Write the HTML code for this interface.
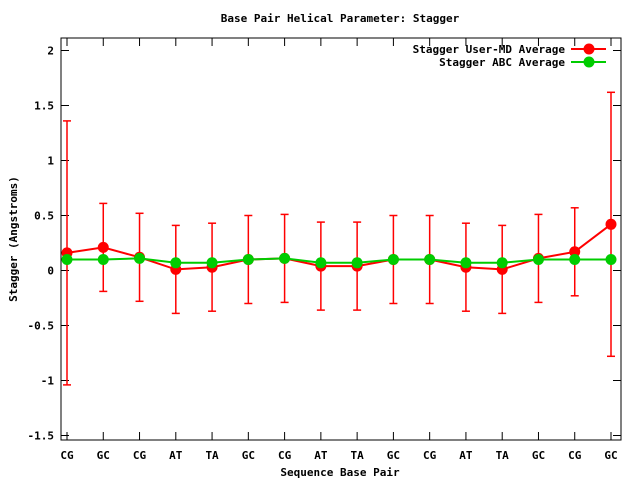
<!DOCTYPE html>
<html><head><meta charset="utf-8"><style>
body{margin:0;background:#fff}
svg text{font-family:"DejaVu Sans Mono","Liberation Mono",monospace;font-size:11px;font-weight:bold;fill:#000}
</style></head><body>
<svg id="c" width="640" height="480" viewBox="0 0 640 480"></svg>
<script>
const categories=["CG","GC","CG","AT","TA","GC","CG","AT","TA","GC","CG","AT","TA","GC","CG","GC"];
const userValues=[0.16,0.21,0.12,0.01,0.03,0.10,0.11,0.04,0.04,0.10,0.10,0.03,0.01,0.11,0.17,0.42];
const userErrors=[1.20,0.40,0.40,0.40,0.40,0.40,0.40,0.40,0.40,0.40,0.40,0.40,0.40,0.40,0.40,1.20];
const abcValues=[0.10,0.10,0.11,0.07,0.07,0.10,0.11,0.07,0.07,0.10,0.10,0.07,0.07,0.10,0.10,0.10];
const yTicks=[-1.5,-1,-0.5,0,0.5,1,1.5,2];
const yTickLabels=["-1.5","-1","-0.5","0","0.5","1","1.5","2"];

const L=61,R=621,T=38,B=440;
const svg=document.getElementById('c');
const NS='http://www.w3.org/2000/svg';
function mk(tag,attrs,parent){const e=document.createElementNS(NS,tag);for(const k in attrs)e.setAttribute(k,attrs[k]);(parent||svg).appendChild(e);return e;}
const x=i=>67+i*(611-67)/(categories.length-1);
const y=v=>270.5-v*110;

let e=mk('rect',{x:L,y:T,width:R-L,height:B-T,fill:'none',stroke:'#000','stroke-width':1});


yTicks.forEach((v,i)=>{
 mk('line',{x1:L,x2:L+8,y1:y(v),y2:y(v),stroke:'#000'});
 mk('line',{x1:R-8,x2:R,y1:y(v),y2:y(v),stroke:'#000'});
 const t=mk('text',{x:L-7,y:y(v)+4,'text-anchor':'end'});t.textContent=yTickLabels[i];
 
});
categories.forEach((c,i)=>{
 mk('line',{x1:x(i),x2:x(i),y1:B,y2:B-8,stroke:'#000'});
 mk('line',{x1:x(i),x2:x(i),y1:T,y2:T+8,stroke:'#000'});
 const t=mk('text',{x:x(i),y:B+19,'text-anchor':'middle'});t.textContent=c;
 
});

let t=mk('text',{x:340,y:22,'text-anchor':'middle'});t.textContent='Base Pair Helical Parameter: Stagger';

t=mk('text',{x:340,y:476,'text-anchor':'middle'});t.textContent='Sequence Base Pair';

t=mk('text',{x:17,y:239,'text-anchor':'middle',transform:'rotate(-90 17 239)'});t.textContent='Stagger (Angstroms)';


// error bars
userValues.forEach((v,i)=>{
 const g=mk('g',{stroke:'#f00','stroke-width':1.5});
 
 const hi=y(v+userErrors[i]),lo=y(v-userErrors[i]);
 mk('line',{x1:x(i),x2:x(i),y1:hi,y2:lo},g);
 mk('line',{x1:x(i)-4,x2:x(i)+4,y1:hi,y2:hi},g);
 mk('line',{x1:x(i)-4,x2:x(i)+4,y1:lo,y2:lo},g);
});
function series(vals,color,name){
 const p=mk('polyline',{points:vals.map((v,i)=>x(i)+','+y(v)).join(' '),fill:'none',stroke:color,'stroke-width':2});
 
 vals.forEach((v,i)=>{const c=mk('circle',{cx:x(i),cy:y(v),r:5.5,fill:color});
  });
}
series(userValues,'#f00','user-md');
series(abcValues,'#0c0','abc');

// legend
[['Stagger User-MD Average','#f00',49],['Stagger ABC Average','#0c0',62]].forEach(([lab,col,yy])=>{
 const g=mk('g',{});
 const tt=mk('text',{x:565,y:yy+4,'text-anchor':'end'},g);tt.textContent=lab;
 mk('line',{x1:571,x2:606,y1:yy,y2:yy,stroke:col,'stroke-width':2},g);
 mk('circle',{cx:589,cy:yy,r:5.5,fill:col},g);
});
</script>
</body></html>
